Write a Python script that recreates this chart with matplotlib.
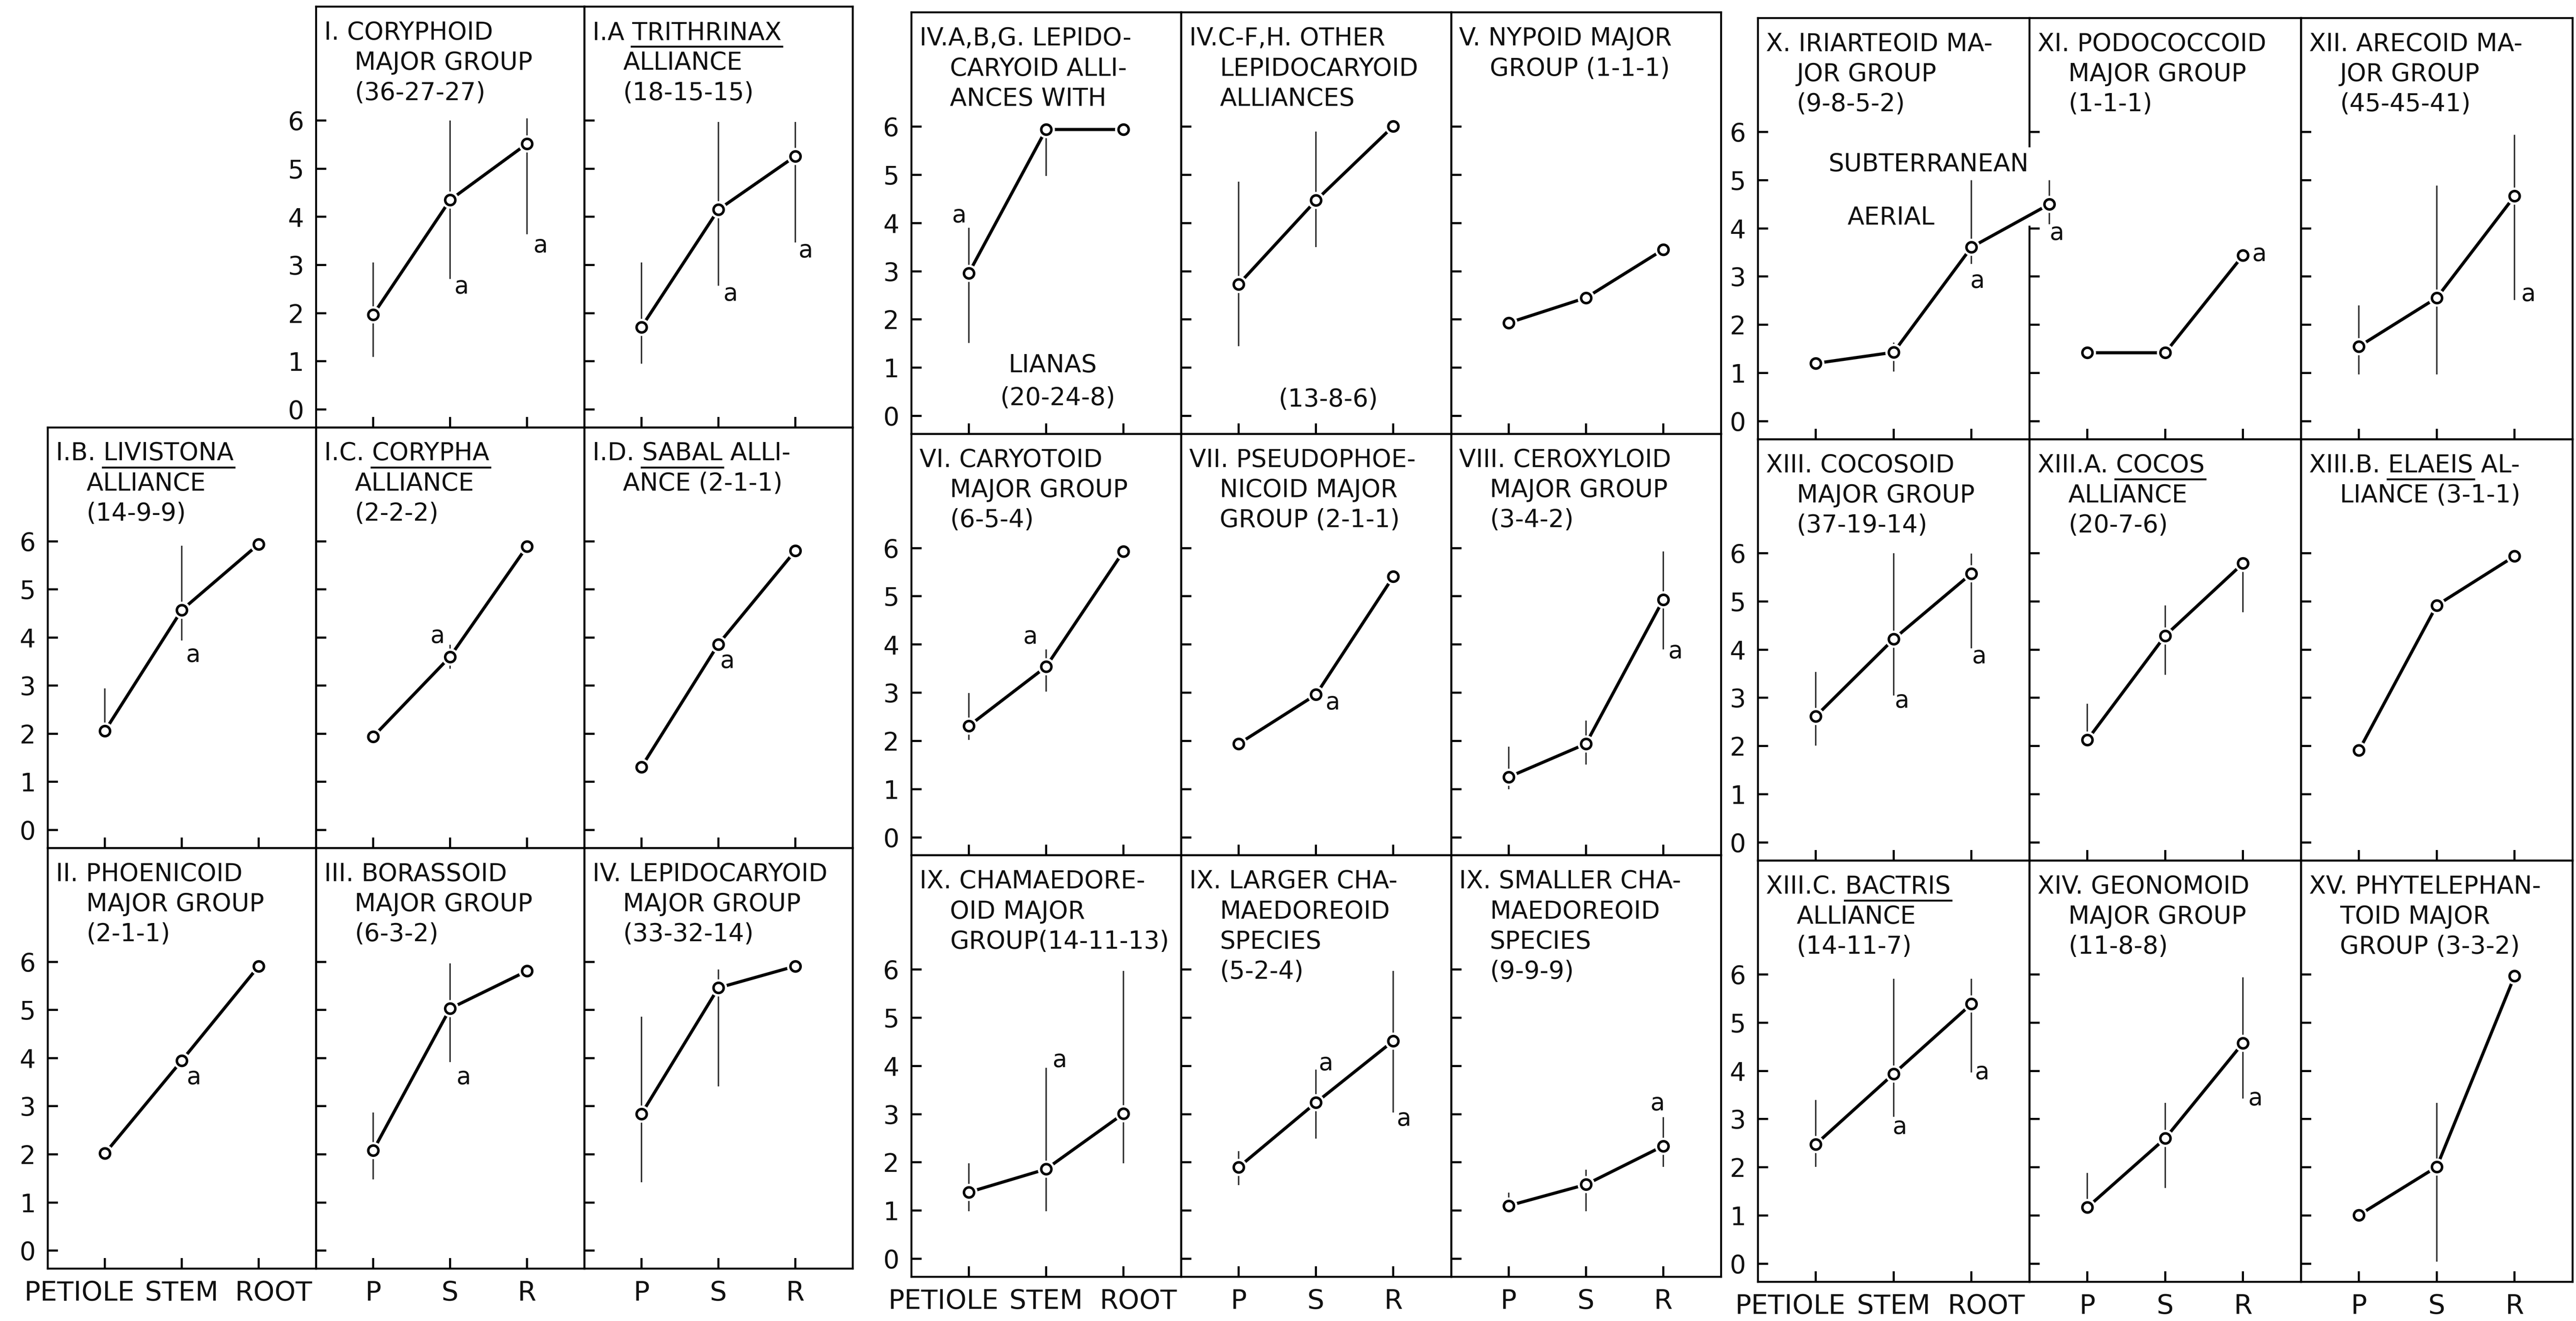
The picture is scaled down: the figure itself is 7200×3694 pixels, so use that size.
import numpy as np
import matplotlib
matplotlib.use("Agg")
import matplotlib.pyplot as plt
from matplotlib.lines import Line2D
from matplotlib.patches import Rectangle
from matplotlib.transforms import ScaledTranslation

nan = np.nan

# three blocks of 3x3 panels, read row by row; None = empty slot
PANEL_IDS = [
    None, "I", "I.A",
    "I.B", "I.C", "I.D",
    "II", "III", "IV",
    "IV.ABG", "IV.CFH", "V",
    "VI", "VII", "VIII",
    "IX", "IX.L", "IX.S",
    "X", "XI", "XII",
    "XIII", "XIII.A", "XIII.B",
    "XIII.C", "XIV", "XV",
]

# panel headings; _WORD_ = underlined genus name
TITLES = {
    "I": ["I. CORYPHOID", "MAJOR GROUP", "(36-27-27)"],
    "I.A": ["I.A _TRITHRINAX_", "ALLIANCE", "(18-15-15)"],
    "I.B": ["I.B. _LIVISTONA_", "ALLIANCE", "(14-9-9)"],
    "I.C": ["I.C. _CORYPHA_", "ALLIANCE", "(2-2-2)"],
    "I.D": ["I.D. _SABAL_ ALLI-", "ANCE (2-1-1)"],
    "II": ["II. PHOENICOID", "MAJOR GROUP", "(2-1-1)"],
    "III": ["III. BORASSOID", "MAJOR GROUP", "(6-3-2)"],
    "IV": ["IV. LEPIDOCARYOID", "MAJOR GROUP", "(33-32-14)"],
    "IV.ABG": ["IV.A,B,G. LEPIDO-", "CARYOID ALLI-", "ANCES WITH"],
    "IV.CFH": ["IV.C-F,H. OTHER", "LEPIDOCARYOID", "ALLIANCES"],
    "V": ["V. NYPOID MAJOR", "GROUP (1-1-1)"],
    "VI": ["VI. CARYOTOID", "MAJOR GROUP", "(6-5-4)"],
    "VII": ["VII. PSEUDOPHOE-", "NICOID MAJOR", "GROUP (2-1-1)"],
    "VIII": ["VIII. CEROXYLOID", "MAJOR GROUP", "(3-4-2)"],
    "IX": ["IX. CHAMAEDORE-", "OID MAJOR", "GROUP(14-11-13)"],
    "IX.L": ["IX. LARGER CHA-", "MAEDOREOID", "SPECIES", "(5-2-4)"],
    "IX.S": ["IX. SMALLER CHA-", "MAEDOREOID", "SPECIES", "(9-9-9)"],
    "X": ["X. IRIARTEOID MA-", "JOR GROUP", "(9-8-5-2)"],
    "XI": ["XI. PODOCOCCOID", "MAJOR GROUP", "(1-1-1)"],
    "XII": ["XII. ARECOID MA-", "JOR GROUP", "(45-45-41)"],
    "XIII": ["XIII. COCOSOID", "MAJOR GROUP", "(37-19-14)"],
    "XIII.A": ["XIII.A. _COCOS_", "ALLIANCE", "(20-7-6)"],
    "XIII.B": ["XIII.B. _ELAEIS_ AL-", "LIANCE (3-1-1)"],
    "XIII.C": ["XIII.C. _BACTRIS_", "ALLIANCE", "(14-11-7)"],
    "XIV": ["XIV. GEONOMOID", "MAJOR GROUP", "(11-8-8)"],
    "XV": ["XV. PHYTELEPHAN-", "TOID MAJOR", "GROUP (3-3-2)"],
}

# mean values at petiole / stem / root (X has a 4th, subterranean root)
MEANS = {
    "I": [1.97, 4.35, 5.52], "I.A": [1.71, 4.15, 5.26],
    "I.B": [2.06, 4.57, 5.94], "I.C": [1.94, 3.60, 5.89], "I.D": [1.31, 3.86, 5.80],
    "II": [2.02, 3.95, 5.91], "III": [2.08, 5.03, 5.81], "IV": [2.84, 5.46, 5.91],
    "IV.ABG": [2.96, 5.94, 5.94], "IV.CFH": [2.73, 4.47, 6.01], "V": [1.93, 2.45, 3.45],
    "VI": [2.31, 3.54, 5.93], "VII": [1.94, 2.96, 5.41], "VIII": [1.25, 1.94, 4.93],
    "IX": [1.38, 1.86, 3.01], "IX.L": [1.90, 3.24, 4.52], "IX.S": [1.10, 1.54, 2.34],
    "X": [1.20, 1.43, 3.61, 4.50], "XI": [1.42, 1.42, 3.44], "XII": [1.55, 2.56, 4.67],
    "XIII": [2.62, 4.22, 5.58], "XIII.A": [2.13, 4.29, 5.79], "XIII.B": [1.91, 4.92, 5.94],
    "XIII.C": [2.48, 3.94, 5.39], "XIV": [1.17, 2.60, 4.58], "XV": [1.01, 2.01, 5.97],
}

# range bars (nan = no bar)
LOWS = {
    "I": [1.09, 2.71, 3.64], "I.A": [0.95, 2.57, 3.47],
    "I.B": [2.06, 3.94, nan], "I.C": [nan, 3.35, nan],
    "III": [1.48, 3.92, nan], "IV": [1.42, 3.41, nan],
    "IV.ABG": [1.51, 4.98, nan], "IV.CFH": [1.45, 3.50, nan],
    "VI": [2.02, 3.02, nan], "VIII": [1.00, 1.51, 3.90],
    "IX": [0.99, 0.99, 1.98], "IX.L": [1.53, 2.49, 3.03], "IX.S": [0.96, 0.99, 1.91],
    "X": [1.20, 1.03, 3.26, 4.09], "XII": [0.97, 0.97, 2.51],
    "XIII": [2.01, 3.05, 4.03], "XIII.A": [1.99, 3.48, 4.78],
    "XIII.C": [2.01, 3.05, 3.97], "XIV": [1.17, 1.57, 3.43], "XV": [nan, 0.04, nan],
}
HIGHS = {
    "I": [3.05, 6.00, 6.05], "I.A": [3.05, 5.97, 5.97],
    "I.B": [2.94, 5.91, nan], "I.C": [nan, 3.85, nan],
    "III": [2.87, 5.97, nan], "IV": [4.86, 5.84, nan],
    "IV.ABG": [3.90, 5.94, nan], "IV.CFH": [4.86, 5.90, nan],
    "VI": [2.99, 3.90, nan], "VIII": [1.88, 2.42, 5.93],
    "IX": [1.98, 3.96, 5.97], "IX.L": [2.23, 3.92, 5.97], "IX.S": [1.37, 1.85, 2.94],
    "X": [1.37, 1.63, 5.00, 5.00], "XII": [2.40, 4.89, 5.94],
    "XIII": [3.54, 6.00, 5.99], "XIII.A": [2.88, 4.92, 5.76],
    "XIII.C": [3.40, 5.91, 5.91], "XIV": [1.88, 3.34, 5.94], "XV": [nan, 3.34, nan],
}

# "a" marks, (x, value)
A_MARKS = {
    "I": [(2.15, 2.55), (3.18, 3.40)], "I.A": [(2.16, 2.40), (3.14, 3.30)],
    "I.B": [(2.15, 3.63)], "I.C": [(1.84, 4.03)], "I.D": [(2.12, 3.51)],
    "II": [(2.16, 3.60)], "III": [(2.18, 3.60)],
    "IV.ABG": [(0.88, 4.15)], "VI": [(1.80, 4.16)], "VII": [(2.22, 2.79)],
    "VIII": [(3.16, 3.85)], "IX": [(2.18, 4.12)],
    "IX.L": [(2.13, 4.05), (3.14, 2.90)], "IX.S": [(2.93, 3.22)],
    "X": [(3.08, 2.91), (4.10, 3.90)], "XI": [(3.21, 3.46)], "XII": [(3.18, 2.63)],
    "XIII": [(2.11, 2.94), (3.10, 3.86)], "XIII.C": [(2.08, 2.83), (3.14, 3.97)],
    "XIV": [(3.16, 3.43)],
}

# loose labels inside panels: (text, left in axes fraction, value)
EXTRA_TEXT = {
    "IV.ABG": [("LIANAS", 0.36, 1.05), ("(20-24-8)", 0.33, 0.37)],
    "IV.CFH": [("(13-8-6)", 0.36, 0.34)],
    "X": [("SUBTERRANEAN", 0.26, 5.33), ("AERIAL", 0.33, 4.23)],
}

LONG_X = ["PETIOLE", "STEM", "ROOT"]
SHORT_X = ["P", "S", "R"]
Y_TICKS = [0, 1, 2, 3, 4, 5, 6]

# layout (measured on a 1568 x 804 copy of the figure)
W0, H0 = 1568.0, 804.0
BLOCK_LEFT = [29.0, 554.6, 1070.0]
BLOCK_W = [163.3, 164.3, 165.3]
BLOCK_TOP = [4.0, 7.5, 10.8]
BLOCK_ROWH = [256.0, 256.5, 256.4]

FS = 16.5
TXT = "#111111"

fig = plt.figure(figsize=(24, 3694 / 300), dpi=300)
fig.patch.set_facecolor("white")
renderer = fig.canvas.get_renderer()


def put_line(ax, text, x_pt, y_pt):
    parts = text.split("_")
    kw = dict(xy=(0, 1), xycoords="axes fraction", textcoords="offset points",
              ha="left", va="baseline", fontsize=FS, color=TXT, annotation_clip=False)
    ax.annotate("".join(parts), xytext=(x_pt, y_pt), **kw)
    for j in range(1, len(parts), 2):
        t1 = ax.annotate("".join(parts[:j + 1]), xytext=(x_pt, y_pt), **kw)
        t2 = ax.annotate(parts[j], xytext=(x_pt, y_pt), **kw)
        x1 = t1.get_window_extent(renderer).x1
        w = t2.get_window_extent(renderer).width
        t1.remove()
        t2.remove()
        _, ytop = ax.transAxes.transform((0, 1))
        yb = ytop + (y_pt - 4.6) * fig.dpi / 72
        inv = fig.transFigure.inverted()
        (fx0, fy), (fx1, _) = inv.transform([(x1 - w - 2, yb), (x1 + 2, yb)])
        fig.add_artist(Line2D([fx0, fx1], [fy, fy], transform=fig.transFigure,
                              color=TXT, lw=1.3))


for k, pid in enumerate(PANEL_IDS):
    if pid is None:
        continue
    b, r, c = k // 9, (k % 9) // 3, k % 3
    left = (BLOCK_LEFT[b] + c * BLOCK_W[b]) / W0
    top = BLOCK_TOP[b] + r * BLOCK_ROWH[b]
    bottom = 1 - (top + BLOCK_ROWH[b]) / H0
    ax = fig.add_axes([left, bottom, BLOCK_W[b] / W0, BLOCK_ROWH[b] / H0])
    ax.patch.set_visible(False)
    ax.set_xlim(0.255, 3.745)
    ax.set_ylim(-0.37, 8.37)

    y = np.array(MEANS[pid])
    x = np.arange(1, len(y) + 1)
    if len(y) > 3:
        # the extra (subterranean) root runs over the neighbour's frame
        ax.set_zorder(1)
        ax.spines["right"].set_visible(False)
        ax.add_patch(Rectangle((3.70, 4.06), 0.22, 1.62, facecolor="white",
                               edgecolor="none", zorder=1.5, clip_on=False))
    if pid in LOWS:
        lo, hi = np.array(LOWS[pid]), np.array(HIGHS[pid])
        ok = ~np.isnan(lo)
        ax.vlines(x[ok], lo[ok], hi[ok], color="#333333", lw=1.0, zorder=2, clip_on=False)
    ax.plot(x, y, color="black", lw=2.1, zorder=3, clip_on=False, solid_capstyle="butt")
    ax.plot(x, y, "o", ms=11.5, color="white", mec="none", zorder=4, clip_on=False)
    ax.plot(x, y, "o", ms=6.8, mfc="white", mec="black", mew=1.7, zorder=5, clip_on=False)

    for xa, ya in A_MARKS.get(pid, []):
        ax.text(xa, ya, "a", fontsize=16, ha="center", va="center", color=TXT,
                clip_on=False, zorder=6)
    for s, fx, yv in EXTRA_TEXT.get(pid, []):
        ax.text(fx, yv, s, transform=ax.get_yaxis_transform(), fontsize=FS,
                ha="left", va="center", color=TXT, clip_on=False, zorder=6)

    for i, line in enumerate(TITLES[pid]):
        put_line(ax, line, 5.5 if i == 0 else 26.0, -(22.3 + i * 20.2))

    for sp in ax.spines.values():
        sp.set_linewidth(1.3)
    ax.set_yticks(Y_TICKS)
    ax.set_xticks([1, 2, 3])
    ax.tick_params(direction="in", length=7, width=1.4, colors="black",
                   labelcolor=TXT, pad=8)
    ax.tick_params(axis="y", labelsize=17)
    ax.tick_params(axis="x", labelsize=18, pad=8)
    show_y = c == 0 or (b == 0 and r == 0 and c == 1)
    if show_y:
        ax.set_yticklabels([str(v) for v in Y_TICKS])
    else:
        ax.tick_params(labelleft=False)
    if r == 2:
        ax.set_xticklabels(LONG_X if c == 0 else SHORT_X)
        if c == 0:
            labs = ax.get_xticklabels()
            labs[0].set_transform(labs[0].get_transform()
                                  + ScaledTranslation(-17 / 72, 0, fig.dpi_scale_trans))
            labs[2].set_transform(labs[2].get_transform()
                                  + ScaledTranslation(10 / 72, 0, fig.dpi_scale_trans))
    else:
        ax.tick_params(labelbottom=False)

fig.savefig("out.png", dpi=300, facecolor="white")
